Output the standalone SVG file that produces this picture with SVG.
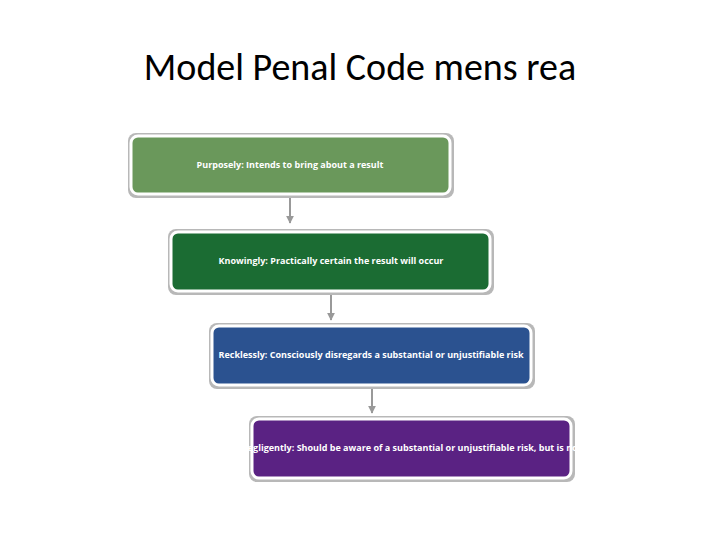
<svg xmlns="http://www.w3.org/2000/svg" width="720" height="540" viewBox="0 0 720 540">
<defs>
<style>
.box{stroke:#fff;stroke-width:3}
.sh{fill:#b8b8b8}
.t{font-family:"Open Sans","Liberation Sans",sans-serif;font-size:9px;font-weight:bold;fill:#fff;text-anchor:middle}
.c{stroke:#999;stroke-width:2;fill:none}
</style>
<marker id="ah" viewBox="0 0 10 10" refX="9" refY="5" markerWidth="4" markerHeight="4" orient="auto"><path d="M0,0L10,5L0,10z" fill="#999"/></marker>
</defs>
<rect width="720" height="540" fill="#fff"/>
<text x="360" y="80" font-family="Carlito,'Liberation Sans',sans-serif" font-size="38" text-anchor="middle" fill="#000">Model Penal Code mens rea</text>
<g id="connectors">
<line class="c" x1="290" y1="196" x2="290" y2="223" marker-end="url(#ah)"/>
<line class="c" x1="331" y1="293" x2="331" y2="320" marker-end="url(#ah)"/>
<line class="c" x1="372" y1="387" x2="372" y2="413" marker-end="url(#ah)"/>
</g>
<g id="n1"><rect class="sh" x="128" y="133" width="326" height="65" rx="8"/><rect class="box" x="131" y="136" width="319" height="58" rx="7" fill="#6a985b"/><text class="t" x="290" y="168">Purposely: Intends to bring about a result</text></g>
<g id="n2"><rect class="sh" x="168" y="229" width="326" height="66" rx="8"/><rect class="box" x="171" y="232" width="319" height="59" rx="7" fill="#1b6c33"/><text class="t" x="331" y="264">Knowingly: Practically certain the result will occur</text></g>
<g id="n3"><rect class="sh" x="209" y="323" width="326" height="66" rx="8"/><rect class="box" x="212" y="326" width="319" height="59" rx="7" fill="#2b5290"/><text class="t" x="371" y="358">Recklessly: Consciously disregards a substantial or unjustifiable risk</text></g>
<g id="n4"><rect class="sh" x="249" y="416" width="326" height="66" rx="8"/><rect class="box" x="252" y="419" width="319" height="59" rx="7" fill="#5a2283"/><text class="t" x="411" y="451">Negligently: Should be aware of a substantial or unjustifiable risk, but is not</text></g>
</svg>
